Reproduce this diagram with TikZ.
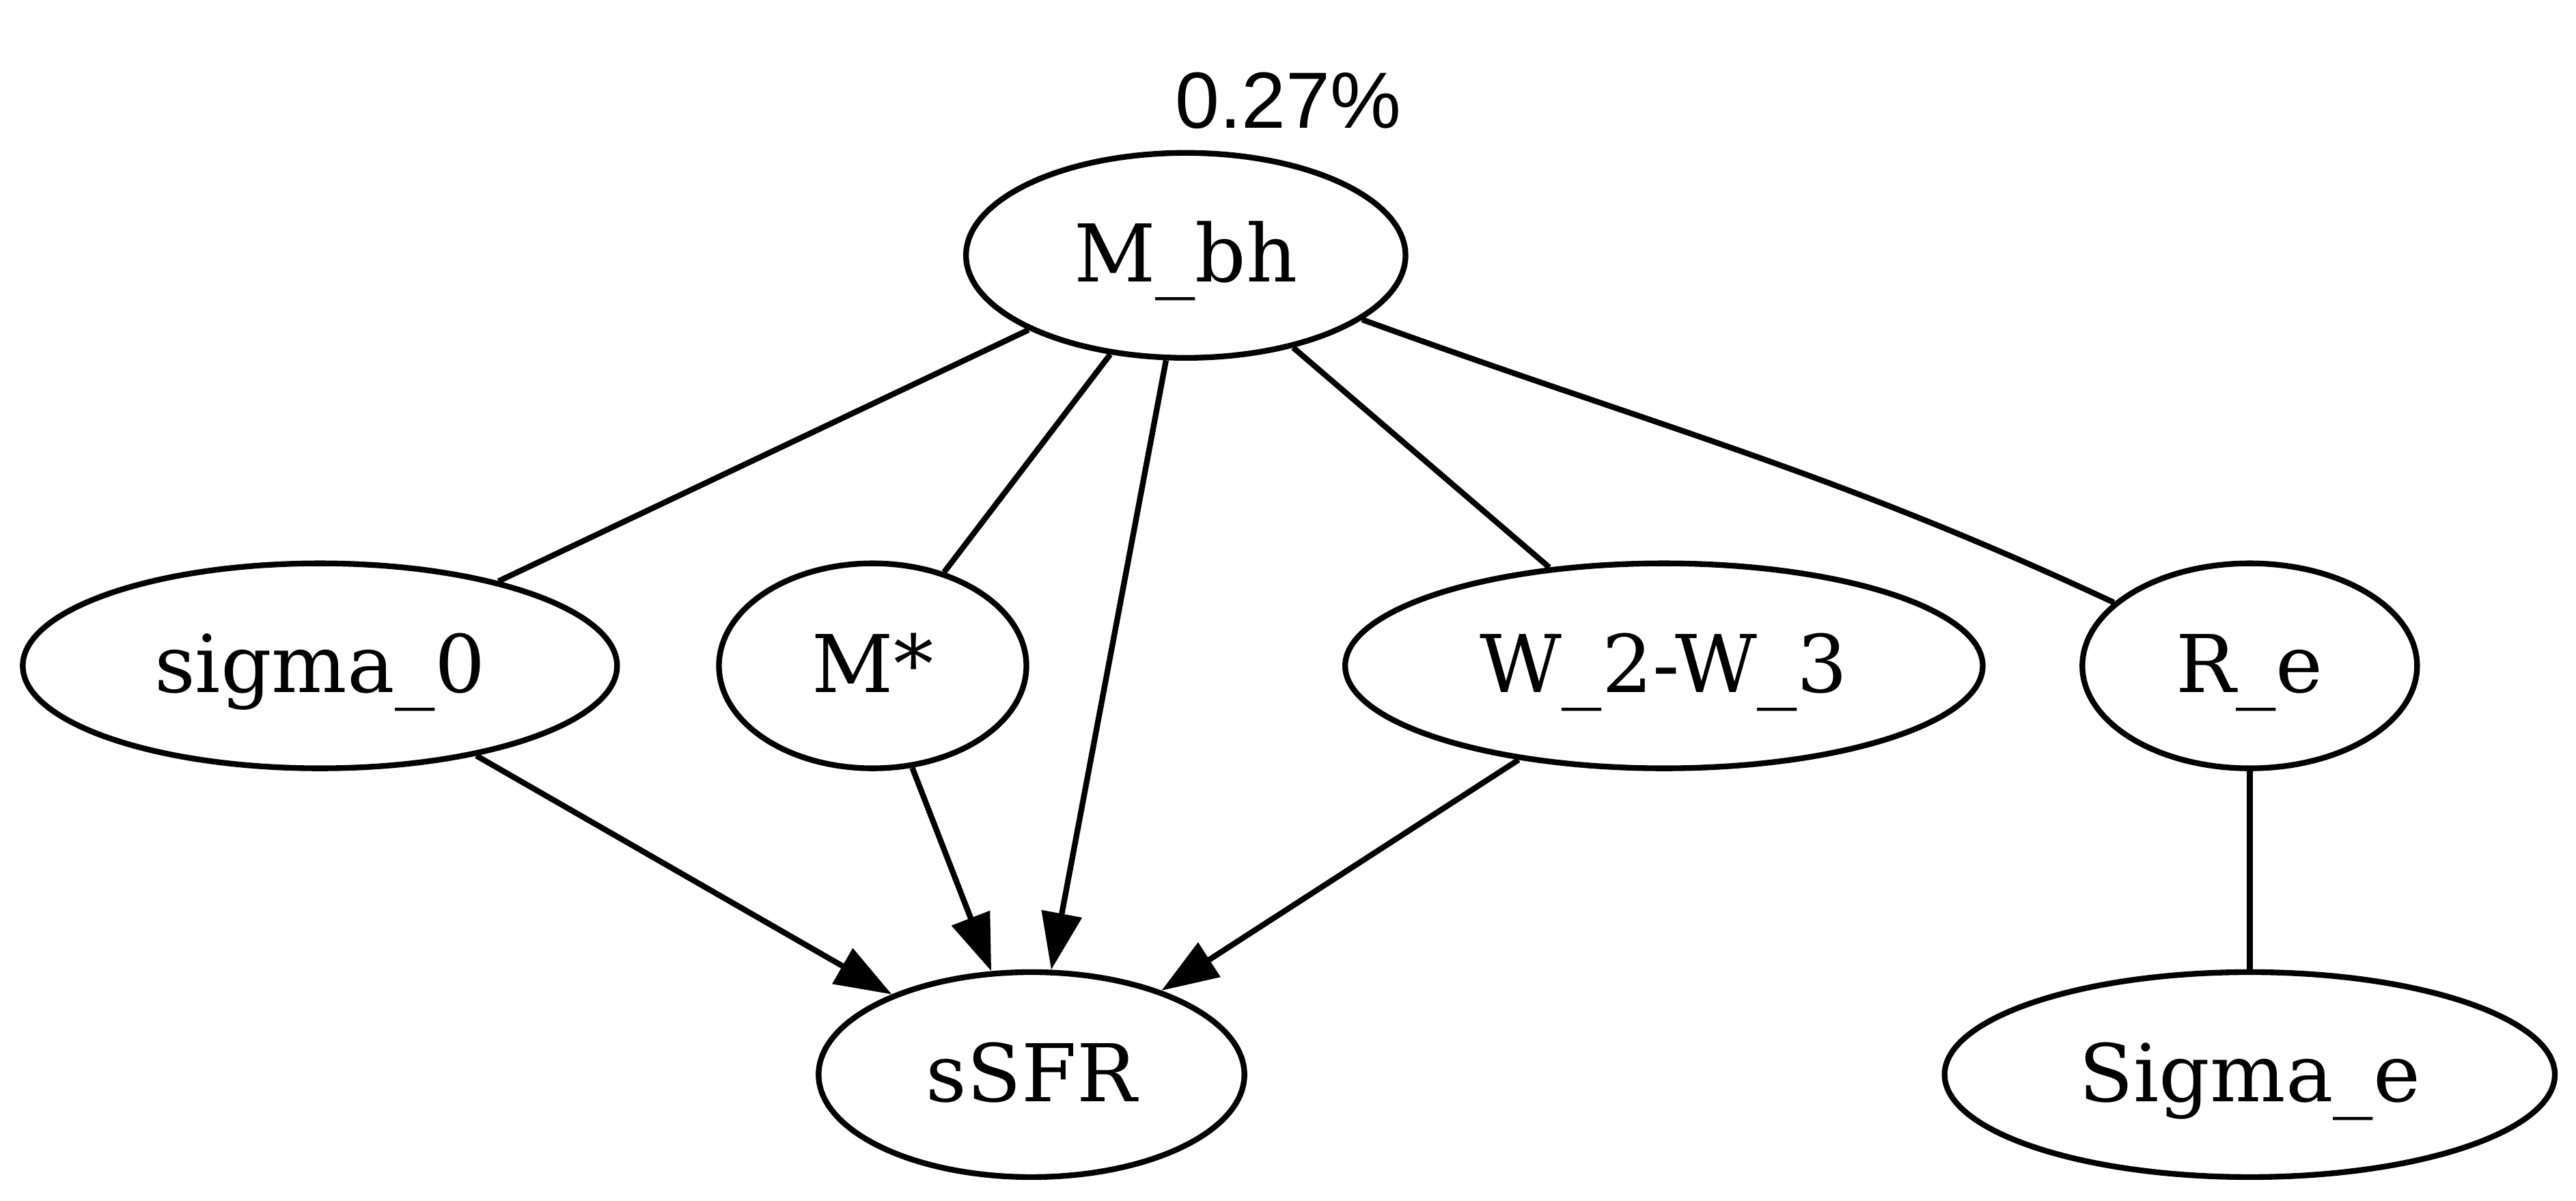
\documentclass[tikz,border=0pt]{standalone}
\usepackage{fontspec}
\setmainfont{DejaVu Serif}
\newfontfamily\pctfont{Liberation Sans}
\usetikzlibrary{arrows.meta, shapes.geometric}

\begin{document}
\begin{tikzpicture}[
  x=1pt, y=1pt,
  >={Triangle[length=10pt, width=7pt]},
  var/.style={
    ellipse, draw, line width=1pt, minimum height=36pt, inner sep=0pt,
    font=\fontsize{14}{16}\selectfont, text height=12pt, text depth=2.6pt
  },
  pctlab/.style={font=\pctfont\fontsize{14}{16}\selectfont, inner sep=0pt, anchor=base},
  edge/.style={line width=1pt},
]
\useasboundingbox (0,0) rectangle (452.52,210.96);

%%% Top rank
\node[var, minimum width=77.2pt]  (mbh)    at (208.3,166.1) {M\_bh};
\node[pctlab]                     (frac)   at (226.3,188.5) {0.27\%};

%%% Middle rank
\node[var, minimum width=104.4pt] (sigma0) at (56.2,94.0)   {sigma\_0};
\node[var, minimum width=54pt]    (mstar)  at (153.3,94.0)  {M*};
\node[var, minimum width=112pt]   (w23)    at (292.3,94.0)  {W\_2-W\_3};
\node[var, minimum width=58.8pt]  (re)     at (395.2,94.0)  {R\_e};

%%% Bottom rank
\node[var, minimum width=74.8pt]  (ssfr)   at (181.2,22.2)  {sSFR};
\node[var, minimum width=107.2pt] (sigmae) at (395.2,22.2)  {Sigma\_e};

%%% Edges
\draw[edge]     (mbh) -- (sigma0);
\draw[edge]     (mbh) -- (mstar);
\draw[edge, ->] (mbh) -- (ssfr);
\draw[edge]     (mbh) -- (w23);
\draw[edge]     (mbh) to[out=-20, in=155] (re);
\draw[edge, ->] (sigma0) -- (ssfr);
\draw[edge, ->] (mstar) -- (ssfr);
\draw[edge, ->] (w23) -- (ssfr);
\draw[edge]     (re) -- (sigmae);

\end{tikzpicture}
\end{document}
